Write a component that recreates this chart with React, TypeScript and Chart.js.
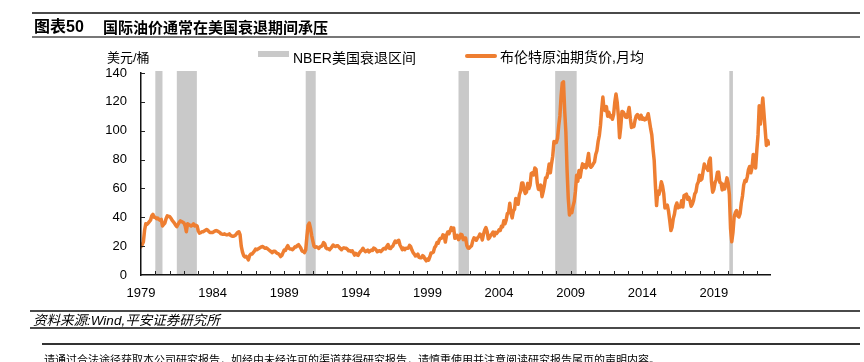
import React, { useEffect, useRef } from 'react';
import { Chart, registerables } from 'chart.js';

Chart.register(...registerables);

const START_YEAR = 1979;

// Brent monthly averages (USD/bbl)
const brent1979to1988 = [
  19.6, 21, 23, 31, 35.5, 35, 36, 37, 38, 41, 42, 40,
  40, 39, 39.5, 38.5, 38, 38.5, 34, 35, 36, 39, 41, 40.5,
  40.5, 39.5, 38, 37, 36, 34.5, 33.5, 35, 36.5, 37.5, 37, 36.5,
  36, 34, 30, 35.5, 35, 34.5, 34, 34.5, 35.5, 34, 34.5, 34,
  30.5, 29, 29.3, 30, 30, 30.5, 31, 31.5, 31, 30, 29.5, 29.5,
  29.5, 30, 30.5, 30.8, 30.5, 30, 29.5, 28.5, 28.3, 28.2, 28.5, 28,
  27.8, 28, 28.5, 27.5, 27, 26.8, 27, 27.5, 28.5, 29.5, 30, 28,
  20, 16, 13.5, 12.5, 13, 12, 10.5, 13.5, 14.5, 14.5, 15.5, 16.5,
  18, 17.5, 18, 18.5, 19, 19.5, 19.8, 19, 18.5, 18.8, 18.2, 17.5,
  16.8, 16.2, 15.5, 16.5, 16.5, 15.8, 15, 14.8, 14, 12.8, 13.5, 15.5,
];
const brent1989to1998 = [
  17.3, 17, 19, 20.3, 18.5, 18, 18, 17.5, 18.5, 19.5, 19.4, 20.5,
  21, 19.8, 18.5, 16.5, 16.5, 15.5, 17.3, 26.5, 34.5, 36, 32.5, 27.5,
  23.5, 19.8, 19.2, 19.5, 19.2, 18.5, 19.5, 19.8, 20.5, 22.5, 21.5, 18.8,
  18.2, 18.2, 17.5, 18.5, 19.5, 20.8, 20, 19.8, 20.3, 20.2, 19.3, 18.3,
  17.5, 18.5, 18.8, 18.6, 18.5, 17.8, 16.8, 16.9, 16.3, 16.8, 15.3, 13.8,
  15, 13.9, 13.6, 15.4, 16.4, 17.2, 18.5, 17.1, 16.2, 16.6, 17.3, 16,
  16.6, 17.3, 17, 18.6, 18.3, 17.4, 16.1, 16.6, 16.8, 16.2, 17.1, 18.1,
  18.5, 18.1, 19.9, 21.1, 18.6, 18.3, 19.4, 20, 21.8, 23.5, 22.6, 23.5,
  24, 20.8, 19.2, 17.5, 18.6, 17.6, 18.6, 18.6, 18.6, 20.5, 19.6, 17.3,
  15.5, 14.5, 13.2, 13.5, 14.4, 12.2, 12, 12, 13.4, 12.7, 11, 9.8,
];
const brent1999to2008 = [
  11.1, 10.3, 12.5, 15.3, 15.3, 15.9, 19, 20.1, 22.5, 22, 24.5, 25.5,
  25.5, 27.8, 27.5, 22.8, 27.6, 29.8, 28.6, 30.5, 32.8, 31, 32.5, 25.5,
  25.7, 27.5, 24.5, 25.6, 28.2, 27.8, 24.5, 25.7, 25.6, 20.5, 18.7, 18.6,
  19.5, 20.3, 23.7, 25.7, 25.4, 24.1, 25.7, 26.6, 28.4, 27.5, 24.3, 28.3,
  31.2, 32.8, 30.3, 25, 25.8, 27.6, 28.5, 29.8, 27.1, 29.6, 28.8, 29.8,
  31.3, 30.9, 33.8, 33.4, 37.6, 35.5, 38.2, 42.7, 43.2, 49.8, 43.1, 39.6,
  44.3, 45.5, 53.1, 51.9, 49, 55.6, 57.9, 63.8, 63.7, 59, 56.5, 57.5,
  63.5, 59.9, 62.3, 70.4, 70.9, 69.4, 74.1, 73.3, 63.8, 59.4, 59.1, 62.3,
  54.3, 57.8, 62.1, 67.4, 67.5, 71.3, 77, 70.8, 77.2, 82.3, 92.5, 91.5,
  91.9, 94.8, 103.3, 110.4, 123.9, 133.1, 133.9, 113.8, 99.1, 72.8, 53.2, 41.6,
];
const brent2009to2022 = [
  44.9, 43.2, 47.7, 50.9, 58.1, 69.1, 65, 72.5, 67.7, 73.2, 77, 74.7,
  76.4, 74.3, 79.3, 84.2, 75.6, 74.7, 75.6, 77.1, 78.4, 83.5, 86.1, 92.4,
  96.5, 103.7, 114.6, 123.3, 114.5, 113.9, 116.7, 110.1, 112.8, 109.6, 110.5, 107.9,
  111.2, 119.7, 125.4, 119.8, 110.3, 95.2, 102.6, 113.4, 113, 111.5, 109.5, 109.2,
  112.3, 116.1, 108.5, 102.3, 102.6, 102.9, 107.4, 110.3, 111.2, 109.5, 108.1, 110.7,
  107.9, 108.8, 107.5, 107.8, 109.5, 111.8, 106.8, 101.6, 97.1, 87.4, 79.4, 62.3,
  48.1, 58, 55.9, 59.5, 64.6, 61.7, 56.5, 46.5, 47.6, 48.4, 44.3, 38,
  30.8, 33.2, 39.1, 42.3, 47.6, 49.9, 46.6, 47.2, 47.2, 51.4, 47.1, 54.9,
  55.5, 56, 52.5, 53.8, 51.4, 47.6, 49.2, 51.9, 56.2, 57.6, 62.7, 64.4,
  69.1, 65.7, 66.7, 72.1, 76.9, 74.4, 74.3, 72.5, 78.9, 81, 64.8, 57.4,
  59.4, 64, 66.1, 71.2, 71.3, 64.2, 63.9, 59, 62.8, 59.6, 63.2, 67.3,
  63.6, 55.7, 32, 23, 29.4, 40.3, 43.2, 44.7, 40.9, 40.2, 42.7, 49.9,
  54.8, 62.3, 65.4, 64.8, 68, 73.1, 75.2, 70.8, 74.5, 83.5, 80.9, 74.2,
  86.5, 97.1, 117.3, 104.6, 113.3, 122.7, 111.9, 100.5, 89.8, 93.3, 90.9,
];

const xTickYears = [1979, 1984, 1989, 1994, 1999, 2004, 2009, 2014, 2019];
const yTickValues = [0, 20, 40, 60, 80, 100, 120, 140];
const recessionStart = [1980.0, 1981.5, 1990.5, 2001.17, 2007.92, 2020.08];
const recessionEnd = [1980.5, 1982.9, 1991.2, 2001.9, 2009.42, 2020.33];
const X_MAX = 2022.92;

const legendRecession = 'NBER美国衰退区间';
const legendBrent = '布伦特原油期货价,月均';
const yTitle = '美元/桶';
const titleNo = '图表50';
const titleText = '国际油价通常在美国衰退期间承压';
const sourceText = '资料来源:Wind,平安证券研究所';
const disclaimer = '请通过合法途径获取本公司研究报告，如经由未经许可的渠道获得研究报告，请慎重使用并注意阅读研究报告尾页的声明内容。';

const ORANGE = '#EE7E31';
const GREY = '#C9C9C9';
const FONT = '"Liberation Sans", Arial, "Noto Sans CJK SC", sans-serif';

const allValues = [...brent1979to1988, ...brent1989to1998, ...brent1999to2008, ...brent2009to2022];

const recessionPlugin = {
  id: 'recessionBands',
  beforeDatasetsDraw(chart: any) {
    const { ctx, chartArea, scales } = chart;
    ctx.save();
    ctx.fillStyle = GREY;
    recessionStart.forEach((s, i) => {
      const x1 = scales.x.getPixelForValue(s);
      const x2 = scales.x.getPixelForValue(recessionEnd[i]);
      ctx.fillRect(x1, chartArea.top - 2, x2 - x1, chartArea.bottom - chartArea.top + 2);
    });
    ctx.restore();
  },
};

const tickPlugin = {
  id: 'inwardTicks',
  afterDraw(chart: any) {
    const { ctx, chartArea, scales } = chart;
    ctx.save();
    ctx.strokeStyle = '#222';
    ctx.lineWidth = 1;
    for (let yr = START_YEAR + 1; yr <= Math.floor(X_MAX); yr++) {
      const x = Math.round(scales.x.getPixelForValue(yr)) + 0.5;
      ctx.beginPath();
      ctx.moveTo(x, chartArea.bottom);
      ctx.lineTo(x, chartArea.bottom - 4);
      ctx.stroke();
    }
    yTickValues.slice(1).forEach((v) => {
      const y = Math.round(scales.y.getPixelForValue(v)) + 0.5;
      ctx.beginPath();
      ctx.moveTo(chartArea.left, y);
      ctx.lineTo(chartArea.left + 4, y);
      ctx.stroke();
    });
    ctx.restore();
  },
};

function Text(props: { left: number; cy: number; size: number; children: React.ReactNode; style?: React.CSSProperties }) {
  const { left, cy, size, children, style } = props;
  return (
    <div
      style={{
        position: 'absolute',
        left,
        top: cy - size / 2,
        fontSize: size,
        lineHeight: `${size}px`,
        whiteSpace: 'nowrap',
        fontFamily: FONT,
        color: '#000',
        ...style,
      }}
    >
      {children}
    </div>
  );
}

function HLine(props: { left: number; right: number; y: number; h: number; color: string }) {
  const { left, right, y, h, color } = props;
  return <div style={{ position: 'absolute', left, top: y - h / 2, width: right - left, height: h, background: color }} />;
}

export default function App() {
  const canvasRef = useRef<HTMLCanvasElement | null>(null);

  useEffect(() => {
    if (!canvasRef.current) return;
    const points = allValues.map((v, i) => ({ x: START_YEAR + i / 12, y: v }));
    const chart = new Chart(canvasRef.current, {
      type: 'line',
      data: {
        datasets: [
          {
            label: legendBrent,
            data: points,
            borderColor: ORANGE,
            borderWidth: 3.5,
            pointRadius: 0,
            tension: 0,
            fill: false,
            borderJoinStyle: 'round',
            borderCapStyle: 'round',
          },
        ],
      },
      options: {
        responsive: false,
        animation: false,
        devicePixelRatio: 1,
        layout: { padding: { left: 100, right: 94, top: 73, bottom: 57 } },
        plugins: { legend: { display: false }, tooltip: { enabled: false }, title: { display: false } },
        scales: {
          x: {
            type: 'linear',
            min: START_YEAR,
            max: X_MAX,
            grid: { display: false, drawTicks: false },
            border: { display: true, color: '#111', width: 1.5, z: 1 },
            afterBuildTicks: (scale: any) => {
              scale.ticks = xTickYears.map((v) => ({ value: v }));
            },
            afterFit: (scale: any) => {
              scale.height = 30;
            },
            ticks: {
              autoSkip: false,
              maxRotation: 0,
              padding: 11,
              color: '#000',
              font: { family: FONT, size: 13 },
              callback: (v: any) => String(v),
            },
          },
          y: {
            min: 0,
            max: 140,
            grid: { display: false, drawTicks: false },
            border: { display: true, color: '#111', width: 1.5, z: 1 },
            afterBuildTicks: (scale: any) => {
              scale.ticks = yTickValues.map((v) => ({ value: v }));
            },
            afterFit: (scale: any) => {
              scale.width = 41;
            },
            ticks: {
              padding: 14,
              color: '#000',
              font: { family: FONT, size: 13 },
            },
          },
        },
      },
      plugins: [recessionPlugin, tickPlugin],
    });
    return () => chart.destroy();
  }, []);

  return (
    <div style={{ position: 'fixed', left: 0, top: 0, width: 864, height: 362, background: '#fff', overflow: 'hidden' }}>
      <canvas ref={canvasRef} width={864} height={362} style={{ position: 'absolute', left: 0, top: 0, width: 864, height: 362 }} />

      <HLine left={32} right={860} y={13} h={2} color="#4a4a4a" />
      <Text left={34} cy={27} size={16} style={{ fontWeight: 'bold' }}>{titleNo}</Text>
      <Text left={103} cy={27} size={15} style={{ fontWeight: 'bold' }}>{titleText}</Text>
      <HLine left={32} right={860} y={37} h={1.3} color="#777" />

      <Text left={107} cy={57} size={13}>{yTitle}</Text>
      <div style={{ position: 'absolute', left: 258, top: 51, width: 31, height: 6, background: GREY }} />
      <Text left={293} cy={57.5} size={14}>{legendRecession}</Text>
      <div style={{ position: 'absolute', left: 465, top: 54, width: 32, height: 4, borderRadius: 2, background: ORANGE }} />
      <Text left={500} cy={57} size={14}>{legendBrent}</Text>

      <HLine left={30} right={860} y={311} h={2} color="#4a4a4a" />
      <Text left={33} cy={321} size={13.5} style={{ fontStyle: 'italic' }}>{sourceText}</Text>
      <HLine left={30} right={860} y={328} h={2} color="#4a4a4a" />
      <HLine left={42} right={860} y={344} h={1.5} color="#333" />
      <Text left={44} cy={360} size={11}>{disclaimer}</Text>
    </div>
  );
}
